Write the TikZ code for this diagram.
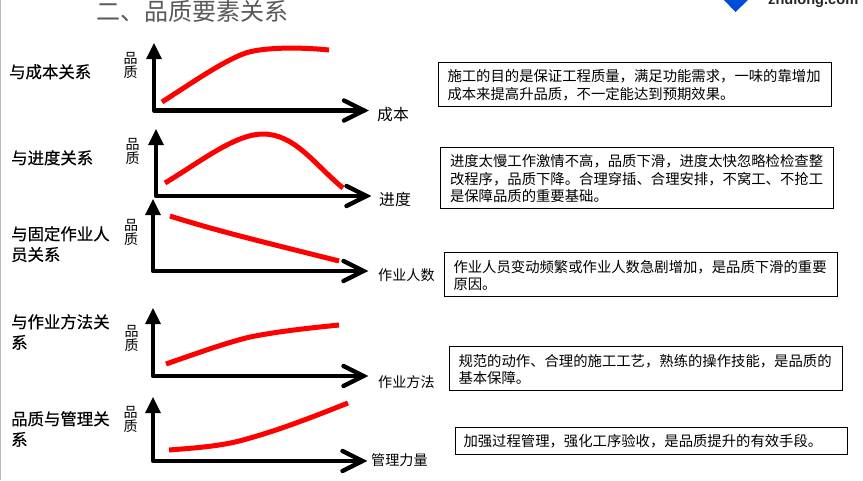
\documentclass[tikz,border=0pt]{standalone}
\usepackage{fontspec}
\setmainfont{Noto Sans CJK SC}
\newfontfamily\latinb{Liberation Sans}[BoldFont={Liberation Sans Bold}]
\newfontfamily\cjkmid{Noto Sans CJK SC}[FakeBold=0.5]
\tikzset{
  x=1pt,y=-1pt,
  axis/.style={line width=4.4pt,black,line cap=round,line join=round},
  headv/.style={fill=black,draw=none},
  headh/.style={line width=4.4pt,black,line cap=round,line join=miter},
  curve/.style={line width=5pt,red},
  rel/.style={font=\cjkmid\fontsize{16.4}{20.6}\selectfont,anchor=north west,align=left,inner sep=0pt},
  qual/.style={font=\fontsize{14}{14}\selectfont,align=center,inner sep=0pt,text width=15pt},
  xlabb/.style={font=\fontsize{15.8}{18}\selectfont,anchor=west,inner sep=0pt},
  xlabs/.style={font=\fontsize{14.1}{16}\selectfont,anchor=west,inner sep=0pt},
  ttl/.style={font=\fontsize{24}{28}\selectfont,text=black!65,anchor=west,inner sep=0pt}
}
\newcommand{\notebox}[7]{%
  \draw[draw=black,line width=0.9pt] (#2,#3) rectangle (#4,#5);
  \node[inner sep=0pt,anchor=north west,font=\fontsize{14.35}{17.6}\selectfont,align=left] (#1) at (#2+#6,#3+7) {#7};
}
\newcommand{\graphaxes}[5]{%
  \coordinate (#1o) at (#2,#3);
  \coordinate (#1t) at (#2,#4);
  \coordinate (#1r) at (#5,#3);
  \draw[axis] (#1t) -- (#1o) -- (#1r);
  \fill[headv] (#2,#4-7) -- (#2+8,#4+9) -- (#2-8,#4+9) -- cycle;
  \draw[headh] (#5-20,#3-10) -- (#5,#3) -- (#5-20,#3+10);
}
\begin{document}
\begin{tikzpicture}
\useasboundingbox (0,0) rectangle (863,480);
\fill[white] (0,0) rectangle (863,480);
\fill[black!28] (0,0) rectangle (1.2,480);
\node[ttl] (title) at (96,11) {二、品质要素关系};
% logo
\fill[blue!65!cyan!85!black] (724,0) -- (748,0) -- (735.5,12) -- cycle;
\node[anchor=base west,inner sep=0pt,font=\latinb\fontsize{14.6}{15}\selectfont\bfseries,text=black!85] (logo) at (768,4.5) {zhulong.com};
% left labels
\node[rel] (r1) at (9,64) {与成本关系};
\node[rel] (r2) at (11,150) {与进度关系};
\node[rel] (r3) at (11,226) {与固定作业人\\员关系};
\node[rel] (r4) at (11,314) {与作业方法关\\系};
\node[rel] (r5) at (11,411) {品质与管理关\\系};
% axes
\graphaxes{a}{154}{110.5}{50}{364}
\graphaxes{b}{156}{196}{136}{366.5}
\graphaxes{c}{153}{271}{206}{363.5}
\graphaxes{d}{153}{376}{315}{363.5}
\graphaxes{e}{153}{461}{404}{362.5}
% y labels
\node[qual] (q1) at (130.5,65.5) {品\\质};
\node[qual] (q2) at (132.5,151) {品\\质};
\node[qual] (q3) at (131,232) {品\\质};
\node[qual] (q4) at (131.5,338) {品\\质};
\node[qual] (q5) at (130.5,419) {品\\质};
% x labels
\node[xlabb] (x1) at (377,115) {成本};
\node[xlabb] (x2) at (379,199) {进度};
\node[xlabs] (x3) at (378,275) {作业人数};
\node[xlabs] (x4) at (378,382) {作业方法};
\node[xlabs] (x5) at (371,460) {管理力量};
% curves
\draw[curve] (162,102) .. controls (190,84) and (222,62) .. (243,54) .. controls (260,47) and (300,47) .. (329,50);
\draw[curve] (165,183) .. controls (200,162) and (235,134) .. (263,134) .. controls (295,134) and (315,165) .. (343,188);
\draw[curve] (170,216) .. controls (220,232) and (280,246) .. (339,261);
\draw[curve] (166,364) .. controls (195,354) and (225,343) .. (250,337) .. controls (280,331) and (310,328) .. (339,325);
\draw[curve] (169,450) .. controls (195,448) and (222,446) .. (243,440) .. controls (280,430) and (315,416) .. (348,403);
% notes
\notebox{n1}{438.3}{62.3}{831.7}{106.3}{9}{施工的目的是保证工程质量，满足功能需求，一味的靠增加\\成本来提高升品质，不一定能达到预期效果。}
\notebox{n2}{440.3}{147.3}{833.3}{208.3}{9.5}{进度太慢工作激情不高，品质下滑，进度太快忽略检检查整\\改程序，品质下降。合理穿插、合理安排，不窝工、不抢工\\是保障品质的重要基础。}
\notebox{n3}{444.3}{252.7}{837.3}{296}{9}{作业人员变动频繁或作业人数急剧增加，是品质下滑的重要\\原因。}
\notebox{n4}{449.3}{346.7}{842.3}{390.3}{9}{规范的动作、合理的施工工艺，熟练的操作技能，是品质的\\基本保障。}
\notebox{n5}{455.3}{427.3}{847.3}{454.3}{8}{加强过程管理，强化工序验收，是品质提升的有效手段。}
\end{tikzpicture}
\end{document}
